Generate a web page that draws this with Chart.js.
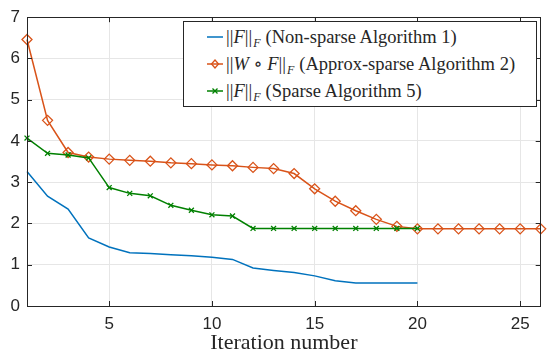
<!DOCTYPE html>
<html>
<head>
<meta charset="utf-8">
<script src="https://cdn.jsdelivr.net/npm/chart.js@4/dist/chart.umd.min.js"></script>
<style>
  html, body { margin: 0; padding: 0; background: #fff; }
  #wrap { position: relative; width: 547px; height: 352px; }
  #legend {
    position: absolute; left: 183px; top: 21px; width: 352px; height: 84px;
    border: 1px solid #262626; background: #fff;
    font-family: "Liberation Serif", "DejaVu Serif", serif; font-size: 18.5px; color: #262626;
  }
  .row { position: absolute; left: 23px; height: 20px; line-height: 20px; white-space: nowrap; }
  .row svg { position: absolute; left: 0; top: 2px; }
  .row span { position: absolute; left: 19px; top: 0; }
  sub { font-size: 12px; vertical-align: -4px; line-height: 0; margin-left: 1px; margin-right: 5px; }
</style>
</head>
<body>
<div id="wrap">
  <canvas id="chart" width="547" height="352"></canvas>
  <div id="legend"></div>
</div>
<script>
// DATA

const iterations = [1, 2, 3, 4, 5, 6, 7, 8, 9, 10, 11, 12, 13, 14, 15, 16, 17, 18, 19, 20, 21, 22, 23, 24, 25, 26];
const nonSparse = [3.26, 2.66, 2.35, 1.65, 1.43, 1.29, 1.27, 1.24, 1.22, 1.18, 1.13, 0.92, 0.86, 0.81, 0.73, 0.61, 0.56, 0.56, 0.56, 0.56];
const approxSparse = [6.46, 4.50, 3.72, 3.61, 3.56, 3.53, 3.51, 3.47, 3.45, 3.42, 3.40, 3.36, 3.33, 3.21, 2.84, 2.54, 2.31, 2.10, 1.93, 1.87, 1.87, 1.87, 1.87, 1.87, 1.87, 1.87];
const sparse = [4.07, 3.70, 3.66, 3.59, 2.87, 2.73, 2.67, 2.44, 2.32, 2.21, 2.18, 1.88, 1.88, 1.88, 1.88, 1.88, 1.88, 1.88, 1.88, 1.88];
const xTicks = [5, 10, 15, 20, 25];
const yTicks = [0, 1, 2, 3, 4, 5, 6, 7];

const legendItems = [
    { label: '||<i>F</i>||<sub><i>F</i></sub>(Non-sparse Algorithm 1)', color: '#0072BD', marker: 'none' },
    { label: '||<i>W</i> \u2218 <i>F</i>||<sub><i>F</i></sub>(Approx-sparse Algorithm 2)', color: '#D95319', marker: 'diamond' },
    { label: '||<i>F</i>||<sub><i>F</i></sub>(Sparse Algorithm 5)', color: '#008000', marker: 'cross' }
];

function toPoints(values) {
    return values.map((v, i) => ({ x: iterations[i], y: v }));
}

// LEGEND

const legend = document.getElementById('legend');
legendItems.forEach((item, i) => {
    const row = document.createElement('div');
    row.className = 'row';
    row.style.top = (5 + i * 27) + 'px';
    let mark = '';
    if (item.marker === 'diamond') {
        mark = '<polygon points="8,4 11.5,8 8,12 4.5,8" fill="none" stroke="' + item.color + '" stroke-width="1.3"/>';
    } else if (item.marker === 'cross') {
        mark = '<path d="M5.5,5.5 L10.5,10.5 M10.5,5.5 L5.5,10.5" stroke="' + item.color + '" stroke-width="1.3"/>';
    }
    row.innerHTML = '<svg width="16" height="16"><line x1="0" y1="8" x2="16" y2="8" stroke="' + item.color + '" stroke-width="1.5"/>' + mark + '</svg><span>' + item.label + '</span>';
    legend.appendChild(row);
});

// BOX AND INWARD TICKS

const boxPlugin = {
    id: 'box',
    afterDraw(chart) {
        const ctx = chart.ctx;
        const a = chart.chartArea;
        const xs = chart.scales.x;
        const ys = chart.scales.y;
        ctx.save();
        ctx.strokeStyle = '#262626';
        ctx.lineWidth = 1;
        ctx.strokeRect(Math.round(a.left) + 0.5, Math.round(a.top) + 0.5, Math.round(a.right - a.left) - 1, Math.round(a.bottom - a.top));
        ctx.beginPath();
        xTicks.forEach(t => {
            const px = Math.round(xs.getPixelForValue(t)) + 0.5;
            ctx.moveTo(px, a.bottom); ctx.lineTo(px, a.bottom - 5);
            ctx.moveTo(px, a.top); ctx.lineTo(px, a.top + 5);
        });
        yTicks.forEach(t => {
            const py = Math.round(ys.getPixelForValue(t)) + 0.5;
            ctx.moveTo(a.left, py); ctx.lineTo(a.left + 5, py);
            ctx.moveTo(a.right, py); ctx.lineTo(a.right - 5, py);
        });
        ctx.stroke();
        ctx.restore();
    }
};

// CHART

const ctx = document.getElementById('chart').getContext('2d');

new Chart(ctx, {
    type: 'line',
    data: {
        datasets: [
            {
                label: 'Non-sparse Algorithm 1',
                data: toPoints(nonSparse),
                borderColor: '#0072BD',
                borderWidth: 1.5,
                pointRadius: 0,
                order: 2
            },
            {
                label: 'Approx-sparse Algorithm 2',
                data: toPoints(approxSparse),
                borderColor: '#D95319',
                backgroundColor: 'rgba(0,0,0,0)',
                borderWidth: 1.5,
                pointStyle: 'rectRot',
                pointRadius: 5,
                pointBorderWidth: 1.3,
                order: 1
            },
            {
                label: 'Sparse Algorithm 5',
                data: toPoints(sparse),
                borderColor: '#008000',
                backgroundColor: '#008000',
                borderWidth: 1.5,
                pointStyle: 'crossRot',
                pointRadius: 3.5,
                pointBorderWidth: 1.3,
                order: 0
            }
        ]
    },
    options: {
        responsive: false,
        animation: false,
        clip: false,
        layout: { padding: { top: 14, right: 2, left: 0, bottom: 0 } },
        plugins: { legend: { display: false }, tooltip: { enabled: false } },
        scales: {
            x: {
                type: 'linear',
                min: 1,
                max: 26,
                afterBuildTicks: s => { s.ticks = xTicks.map(v => ({ value: v })); },
                afterFit: s => { s.height = 46; },
                grid: { color: '#e6e6e6', drawTicks: false },
                border: { display: false },
                ticks: {
                    padding: 8,
                    color: '#262626',
                    font: { family: 'Liberation Sans', size: 17 }
                },
                title: {
                    display: true,
                    text: 'Iteration number',
                    color: '#262626',
                    font: { family: 'Liberation Serif', size: 22, lineHeight: 1 },
                    padding: { top: 0, bottom: -2 }
                }
            },
            y: {
                min: 0,
                max: 7,
                afterBuildTicks: s => { s.ticks = yTicks.map(v => ({ value: v })); },
                afterFit: s => { s.width = 27; },
                grid: { color: '#e6e6e6', drawTicks: false },
                border: { display: false },
                ticks: {
                    padding: 7,
                    color: '#262626',
                    font: { family: 'Liberation Sans', size: 17 }
                }
            }
        }
    },
    plugins: [boxPlugin]
});
</script>
</body>
</html>
